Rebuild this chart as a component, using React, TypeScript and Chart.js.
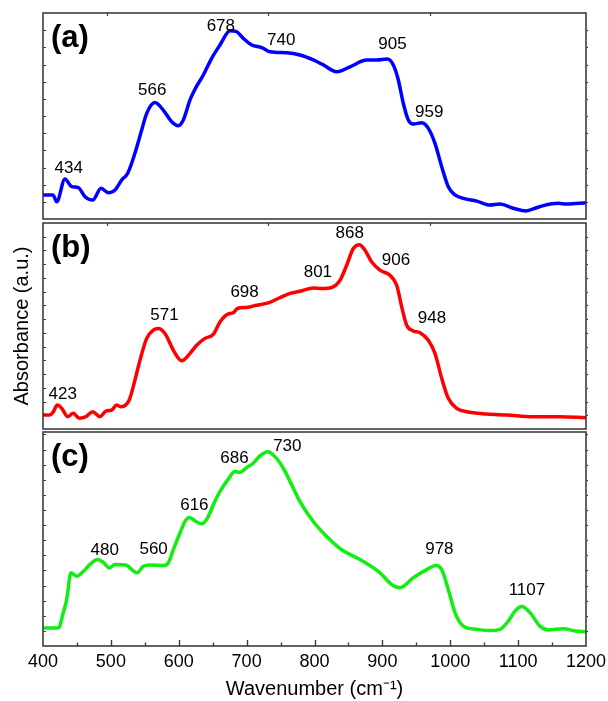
import React, { useEffect, useRef } from "react";
import { Chart, registerables } from "chart.js";

Chart.register(...registerables);

const FONT = "'Liberation Sans', Arial, Helvetica, sans-serif";

// ---- Panel (a) ----
const wavenumberA = [400, 414.7, 420.2, 432.4, 442.3, 452, 461.9, 473.2, 485.5, 496.2, 506.1, 515.9, 524.8, 535.5, 545.4, 552.8, 565, 577.2, 589.6, 599.3, 606.7, 616.6, 623.9, 636.2, 648.5, 660.8, 675.5, 685.4, 695.1, 707.5, 722.2, 734.4, 759, 778.6, 798.2, 813, 832.7, 852.3, 876.9, 891.6, 907.3, 916.1, 923.5, 930.8, 938.2, 945.6, 957.9, 967.7, 977.5, 987.4, 997.1, 1007, 1019.2, 1039, 1058.6, 1073.3, 1092.9, 1111.6, 1122.4, 1137.1, 1159.2, 1171.6, 1200];
const absorbanceA = [0.117, 0.117, 0.084, 0.194, 0.157, 0.152, 0.108, 0.092, 0.149, 0.128, 0.141, 0.189, 0.222, 0.32, 0.432, 0.513, 0.565, 0.529, 0.472, 0.453, 0.481, 0.578, 0.63, 0.699, 0.78, 0.845, 0.914, 0.909, 0.877, 0.845, 0.832, 0.812, 0.807, 0.796, 0.772, 0.748, 0.715, 0.739, 0.772, 0.772, 0.777, 0.748, 0.675, 0.562, 0.481, 0.461, 0.467, 0.44, 0.367, 0.254, 0.157, 0.117, 0.1, 0.087, 0.068, 0.073, 0.052, 0.039, 0.049, 0.065, 0.076, 0.073, 0.079];
const peakTextA = ["434", "566", "678", "740", "905", "959"];
const peakXA = [438, 561, 662, 751, 915, 969];
const peakYA = [0.248, 0.626, 0.937, 0.869, 0.85, 0.519];

// ---- Panel (b) ----
const wavenumberB = [400, 410.3, 415.2, 421.1, 427.6, 436.4, 444.6, 453.5, 463.4, 473.2, 484, 492.8, 501.2, 508.6, 514.9, 527.1, 535.5, 542.9, 552.8, 562.5, 569.9, 579.7, 592, 604.3, 616.6, 626.4, 638.7, 650.9, 660.8, 672.1, 680.4, 686.3, 700.1, 714.8, 731.9, 749.2, 763.9, 778.6, 798.2, 810.6, 825.3, 837.6, 847.4, 857.2, 866, 874.4, 884.3, 896.5, 911.2, 921.1, 928.5, 935.8, 945.6, 955.4, 967.7, 977.5, 987.4, 997.1, 1009.5, 1024.2, 1053.7, 1083.2, 1122.4, 1161.7, 1200];
const absorbanceB = [0.068, 0.068, 0.084, 0.116, 0.1, 0.06, 0.076, 0.052, 0.06, 0.084, 0.06, 0.087, 0.092, 0.116, 0.108, 0.141, 0.238, 0.334, 0.44, 0.48, 0.488, 0.464, 0.383, 0.331, 0.367, 0.407, 0.44, 0.459, 0.52, 0.557, 0.564, 0.585, 0.59, 0.601, 0.612, 0.638, 0.658, 0.669, 0.685, 0.682, 0.687, 0.722, 0.795, 0.876, 0.895, 0.868, 0.811, 0.771, 0.746, 0.698, 0.593, 0.504, 0.476, 0.467, 0.431, 0.367, 0.246, 0.149, 0.1, 0.084, 0.073, 0.068, 0.06, 0.06, 0.055];
const peakTextB = ["423", "571", "698", "801", "868", "906", "948"];
const peakXB = [429, 579, 697, 805, 852, 920, 973];
const peakYB = [0.17, 0.553, 0.663, 0.763, 0.949, 0.819, 0.537];

// ---- Panel (c) ----
const wavenumberC = [400, 422.5, 429.9, 434.9, 441.3, 449.7, 459.4, 469.2, 480.6, 488.8, 497.7, 506.1, 523.3, 530.7, 538.9, 547.8, 557.6, 577.2, 584.6, 592, 601.8, 609.2, 615.5, 625.4, 633.8, 643.5, 650.9, 660.8, 673, 682.9, 690.2, 700.1, 709.8, 719.6, 731, 741.8, 754, 766.4, 778.6, 798.2, 818, 840.1, 867, 896.5, 913.7, 926, 945.6, 965.3, 979, 987.4, 997.1, 1007, 1019.2, 1039, 1058.6, 1073.3, 1085.5, 1095.4, 1105.3, 1117.5, 1132.2, 1144.5, 1166.6, 1183.8, 1200];
const absorbanceC = [0.084, 0.084, 0.156, 0.218, 0.342, 0.326, 0.349, 0.381, 0.404, 0.391, 0.365, 0.381, 0.377, 0.357, 0.342, 0.373, 0.379, 0.376, 0.388, 0.45, 0.528, 0.582, 0.601, 0.582, 0.571, 0.605, 0.66, 0.722, 0.78, 0.815, 0.812, 0.834, 0.854, 0.888, 0.908, 0.885, 0.831, 0.753, 0.675, 0.582, 0.512, 0.45, 0.404, 0.342, 0.287, 0.272, 0.319, 0.357, 0.376, 0.357, 0.264, 0.156, 0.093, 0.078, 0.072, 0.078, 0.116, 0.163, 0.184, 0.156, 0.093, 0.075, 0.081, 0.07, 0.067];
const peakTextC = ["480", "560", "616", "686", "730", "978", "1107"];
const peakXC = [491, 563, 623, 682, 760, 984, 1113];
const peakYC = [0.447, 0.45, 0.657, 0.877, 0.932, 0.45, 0.261];

// ---- Axis ticks ----
const xMin = 400;
const xMax = 1200;
const xMajorStep = 100;
const xMinorStep = 50;
const topTickValues = [494, 732, 970];

type Panel = {
  letter: string;
  xs: number[];
  ys: number[];
  color: string;
  peakText: string[];
  peakX: number[];
  peakY: number[];
  yStep: number;
  topTicks: boolean;
  showX: boolean;
  showYTitle: boolean;
  canvasTop: number;
  canvasHeight: number;
  padTop: number;
  padBottom: number;
};

const panels: Panel[] = [
  {
    letter: "(a)", xs: wavenumberA, ys: absorbanceA, color: "#0000ff",
    peakText: peakTextA, peakX: peakXA, peakY: peakYA, yStep: 1 / 12,
    topTicks: true, showX: false, showYTitle: false,
    canvasTop: 0, canvasHeight: 222, padTop: 13, padBottom: 3,
  },
  {
    letter: "(b)", xs: wavenumberB, ys: absorbanceB, color: "#ff0000",
    peakText: peakTextB, peakX: peakXB, peakY: peakYB, yStep: 1 / 15,
    topTicks: true, showX: false, showYTitle: true,
    canvasTop: 221, canvasHeight: 210, padTop: 2, padBottom: 2,
  },
  {
    letter: "(c)", xs: wavenumberC, ys: absorbanceC, color: "#11ee11",
    peakText: peakTextC, peakX: peakXC, peakY: peakYC, yStep: 0.0706,
    topTicks: false, showX: true, showYTitle: false,
    canvasTop: 430, canvasHeight: 271, padTop: 2, padBottom: 0,
  },
];

function makeDecorPlugin(p: Panel) {
  return {
    id: "decor" + p.letter.replace(/\W/g, ""),
    afterDraw(chart: any) {
      const { ctx, chartArea } = chart;
      const { left, right, top, bottom } = chartArea;
      const xs = chart.scales.x;
      const ys = chart.scales.y;
      ctx.save();
      // frame
      ctx.strokeStyle = "#3c3c3c";
      ctx.lineWidth = 1.6;
      ctx.strokeRect(left, top, right - left, bottom - top);
      // y ticks (left inward, right outward)
      ctx.lineWidth = 1.2;
      for (let v = p.yStep; v < 0.999; v += p.yStep) {
        const py = Math.round(ys.getPixelForValue(v)) + 0.5;
        ctx.beginPath();
        ctx.moveTo(left, py);
        ctx.lineTo(left + 3, py);
        ctx.moveTo(right, py);
        ctx.lineTo(right + 2, py);
        ctx.stroke();
      }
      // top ticks
      if (p.topTicks) {
        for (const v of topTickValues) {
          const px = Math.round(xs.getPixelForValue(v)) + 0.5;
          ctx.beginPath();
          ctx.moveTo(px, top);
          ctx.lineTo(px, top + 3);
          ctx.stroke();
        }
      }
      // bottom ticks
      if (p.showX) {
        ctx.lineWidth = 1.4;
        for (let v = xMin + xMinorStep; v < xMax; v += xMinorStep) {
          const px = Math.round(xs.getPixelForValue(v)) + 0.5;
          const major = (v - xMin) % xMajorStep === 0;
          ctx.beginPath();
          ctx.moveTo(px, bottom);
          ctx.lineTo(px, bottom - (major ? 6 : 3.5));
          ctx.stroke();
        }
      }
      // peak labels
      ctx.fillStyle = "#000";
      ctx.font = `17px ${FONT}`;
      ctx.textAlign = "center";
      ctx.textBaseline = "middle";
      p.peakText.forEach((t, i) => {
        ctx.fillText(t, xs.getPixelForValue(p.peakX[i]), ys.getPixelForValue(p.peakY[i]));
      });
      // panel letter
      ctx.font = `bold 31px ${FONT}`;
      ctx.textAlign = "left";
      ctx.fillText(p.letter, left + 8, top + 25);
      ctx.restore();
    },
  };
}

function PanelChart({ p }: { p: Panel }) {
  const ref = useRef<HTMLCanvasElement | null>(null);
  useEffect(() => {
    if (!ref.current) return;
    const chart = new Chart(ref.current, {
      type: "line",
      data: {
        datasets: [
          {
            data: p.xs.map((x, i) => ({ x, y: p.ys[i] })),
            borderColor: p.color,
            borderWidth: 3.5,
            pointRadius: 0,
            fill: false,
            cubicInterpolationMode: "monotone",
          },
        ],
      },
      options: {
        animation: false,
        responsive: false,
        maintainAspectRatio: false,
        events: [],
        layout: {
          padding: { left: p.showYTitle ? 0 : 43, right: 22, top: p.padTop, bottom: p.padBottom },
        },
        plugins: { legend: { display: false }, tooltip: { enabled: false } },
        scales: {
          x: {
            type: "linear",
            min: xMin,
            max: xMax,
            display: p.showX,
            ticks: {
              stepSize: xMajorStep,
              autoSkip: false,
              maxRotation: 0,
              color: "#000",
              padding: 5,
              font: { family: FONT, size: 18 },
              callback: (v: any) => String(v),
            },
            grid: { display: false, drawTicks: false },
            border: { display: false },
            title: {
              display: true,
              text: "Wavenumber (cm⁻¹)",
              color: "#000",
              font: { family: FONT, size: 20 },
              padding: { top: 0, bottom: 0 },
            },
            afterFit: (s: any) => {
              if (p.showX) {
                s.height = 55;
                s.paddingLeft = 0;
                s.paddingRight = 0;
              }
            },
          },
          y: {
            type: "linear",
            min: 0,
            max: 1,
            position: "left",
            display: p.showYTitle,
            ticks: { display: false },
            grid: { display: false, drawTicks: false },
            border: { display: false },
            title: {
              display: true,
              text: "Absorbance (a.u.)",
              color: "#000",
              font: { family: FONT, size: 20 },
              padding: { top: 10, bottom: 0 },
            },
            afterFit: (s: any) => {
              if (p.showYTitle) s.width = 43;
            },
          },
        },
      },
      plugins: [makeDecorPlugin(p)],
    } as any);
    return () => chart.destroy();
  }, [p]);
  return (
    <canvas
      ref={ref}
      width={608}
      height={p.canvasHeight}
      style={{ position: "absolute", left: 0, top: p.canvasTop, width: 608, height: p.canvasHeight, display: "block" }}
    />
  );
}

export default function App() {
  return (
    <div style={{ position: "absolute", left: 0, top: 0, width: 608, height: 701, background: "#fff", overflow: "hidden" }}>
      {panels.map((p) => (
        <PanelChart key={p.letter} p={p} />
      ))}
    </div>
  );
}
